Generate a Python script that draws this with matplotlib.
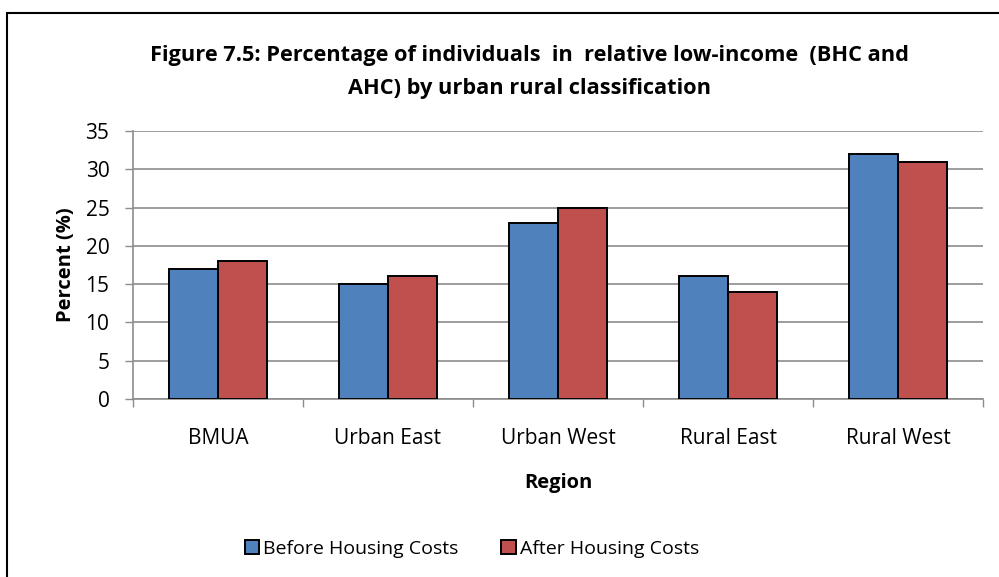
import numpy
from matplotlib import pyplot
from matplotlib.patches import Rectangle

pyplot.rcParams['font.family'] = ['Open Sans', 'DejaVu Sans']

regions = ["BMUA", "Urban East", "Urban West", "Rural East", "Rural West"]
before = [17, 15, 23, 16, 32]
after = [18, 16, 25, 14, 31]
seriesNames = ["Before Housing Costs", "After Housing Costs"]

W, H = 999, 577
fig = pyplot.figure(figsize=(W / 100, H / 100), dpi=100)

# outer chart border (right and bottom are cut off in the source)
fig.patches.append(Rectangle((7 / W, -0.1), 1.2, (H - 13) / H + 0.1,
                             transform=fig.transFigure, fill=False,
                             lw=1.5, ec='black'))

ax = fig.add_axes([133 / W, 1 - 399 / H, 850 / W, 268 / H])

bw = 1 / 3.5
x = numpy.arange(len(regions))
ax.bar(x - bw / 2, before, bw, color='#4F81BD', ec='black', lw=1.4,
       label=seriesNames[0], zorder=3)
ax.bar(x + bw / 2, after, bw, color='#C0504D', ec='black', lw=1.4,
       label=seriesNames[1], zorder=3)

ax.set_xlim(-0.5, len(regions) - 0.5)
ax.set_ylim(0, 35)
ax.set_yticks(range(0, 36, 5))
ax.yaxis.grid(color='#8c8c8c', lw=1.2, zorder=0)
ax.tick_params(axis='y', labelsize=15, length=6, width=1, color='#8c8c8c',
               pad=11)

ax.set_xticks(numpy.arange(len(regions) + 1) - 0.5)
ax.set_xticklabels([])
ax.set_xticks(x, minor=True)
ax.set_xticklabels(regions, minor=True, fontsize=15)
ax.tick_params(axis='x', which='major', length=6, width=1, color='#8c8c8c')
ax.tick_params(axis='x', which='minor', length=0, pad=21)

for s in ['top', 'right']:
    ax.spines[s].set_visible(False)
for s in ['left', 'bottom']:
    ax.spines[s].set_color('#8c8c8c')
    ax.spines[s].set_linewidth(1.2)

ax.set_ylabel("Percent (%)", fontsize=14.5, fontweight='bold', labelpad=7)
ax.set_xlabel("Region", fontsize=14.5, fontweight='bold', labelpad=17)

fig.text(529 / W, 1 - 72 / H,
         "Figure 7.5: Percentage of individuals  in  relative low-income  (BHC and\n"
         "AHC) by urban rural classification",
         ha='center', va='center', fontsize=15.7, fontweight='bold',
         linespacing=1.7)

fig.legend(loc='center', bbox_to_anchor=(472 / W, 1 - 549 / H), ncol=2,
           frameon=False, fontsize=14, handlelength=0.75, handleheight=0.75,
           handletextpad=0.2, columnspacing=2.2)

pyplot.savefig("out.png", dpi=100)
